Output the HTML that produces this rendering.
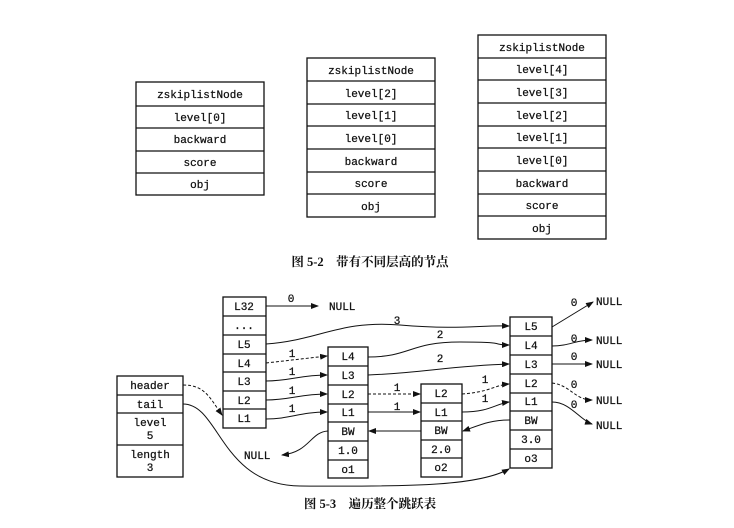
<!DOCTYPE html>
<html><head><meta charset="utf-8"><style>
body{margin:0;background:#fff}
svg text{font-family:"Liberation Mono",monospace;font-size:11px;fill:#111;stroke:#111;stroke-width:0.25;text-anchor:middle}
.c{font-family:"Liberation Serif","Noto Serif CJK SC",serif;font-size:12.5px;font-weight:bold;text-anchor:middle;stroke-width:0}
.n{text-anchor:start}
</style></head><body>
<svg width="734" height="523" viewBox="0 0 734 523" xmlns="http://www.w3.org/2000/svg">
<defs><marker id="a" markerWidth="8" markerHeight="6" refX="7" refY="3" orient="auto" markerUnits="userSpaceOnUse"><path d="M0,0 L8,3 L0,6 Z" fill="#111"/></marker></defs>
<g fill="none" stroke="#111" stroke-width="1.3">
<rect x="136" y="82" width="128" height="113"/>
<path d="M136 106H264M136 128H264M136 151H264M136 173H264"/>
<rect x="307" y="58" width="128" height="159"/>
<path d="M307 81H435M307 104H435M307 126H435M307 149H435M307 172H435M307 194H435"/>
<rect x="478" y="35" width="128" height="204"/>
<path d="M478 58H606M478 80H606M478 103H606M478 126H606M478 148H606M478 171H606M478 194H606M478 216H606"/>
<rect x="223" y="297" width="43" height="131"/>
<path d="M223 316H266M223 335H266M223 354H266M223 372H266M223 391H266M223 409H266"/>
<rect x="117" y="376" width="66" height="101"/>
<path d="M117 395H183M117 413H183M117 445H183"/>
<rect x="328" y="347" width="40" height="131"/>
<path d="M328 366H368M328 385H368M328 404H368M328 422H368M328 441H368M328 460H368"/>
<rect x="421" y="384" width="41" height="93"/>
<path d="M421 403H462M421 421H462M421 440H462M421 458H462"/>
<rect x="510" y="317" width="42" height="151"/>
<path d="M510 336H552M510 355H552M510 374H552M510 393H552M510 411H552M510 430H552M510 449H552"/>
</g>
<g fill="none" stroke="#111" stroke-width="1" marker-end="url(#a)">
<path d="M266 306H318"/>
<path d="M266 344C320 340 340 320 400 325S480 325 509 326"/>
<path d="M266 363L327 356" stroke-dasharray="3,2"/>
<path d="M266 381C290 381 300 375 327 375"/>
<path d="M266 400C290 400 300 394 327 394"/>
<path d="M266 419C290 419 300 412 327 412"/>
<path d="M368 357C410 357 410 342 460 342S490 345 509 345"/>
<path d="M368 375C420 373 450 366 509 364"/>
<path d="M368 394L420 394" stroke-dasharray="3,2"/>
<path d="M368 412L420 412"/>
<path d="M462 394C490 392 495 385 509 384" stroke-dasharray="3,2"/>
<path d="M462 412C490 412 495 404 509 402"/>
<path d="M510 420C490 420 480 425 463 431"/>
<path d="M421 431H369"/>
<path d="M328 431C310 432 310 452 282 455"/>
<path d="M183 385C205 385 210 398 222 415" stroke-dasharray="3,2"/>
<path d="M183 404C220 404 220 485 300 486C420 487 480 485 509 469"/>
<path d="M552 327L593 302"/>
<path d="M552 346C570 346 575 340 592 340"/>
<path d="M552 364H592"/>
<path d="M552 383C570 385 575 400 592 400" stroke-dasharray="3,2"/>
<path d="M552 402C570 402 580 420 592 424"/>
</g>
<g>
<text x="200" y="98">zskiplistNode</text><text x="200" y="121">level[0]</text><text x="200" y="143">backward</text><text x="200" y="166">score</text><text x="200" y="188">obj</text>
<text x="371" y="74">zskiplistNode</text><text x="371" y="97">level[2]</text><text x="371" y="119">level[1]</text><text x="371" y="142">level[0]</text><text x="371" y="165">backward</text><text x="371" y="187">score</text><text x="371" y="210">obj</text>
<text x="542" y="51">zskiplistNode</text><text x="542" y="73">level[4]</text><text x="542" y="96">level[3]</text><text x="542" y="119">level[2]</text><text x="542" y="141">level[1]</text><text x="542" y="164">level[0]</text><text x="542" y="187">backward</text><text x="542" y="209">score</text><text x="542" y="232">obj</text>
<text class="c" x="370" y="266">图 5-2　带有不同层高的节点</text>
<text x="244" y="310">L32</text><text x="244" y="329">...</text><text x="244" y="348">L5</text><text x="244" y="367">L4</text><text x="244" y="385">L3</text><text x="244" y="404">L2</text><text x="244" y="422">L1</text>
<text x="150" y="389">header</text><text x="150" y="408">tail</text><text x="150" y="426">level</text><text x="150" y="439">5</text><text x="150" y="458">length</text><text x="150" y="471">3</text>
<text x="348" y="360">L4</text><text x="348" y="379">L3</text><text x="348" y="398">L2</text><text x="348" y="416">L1</text><text x="348" y="435">BW</text><text x="348" y="454">1.0</text><text x="348" y="473">o1</text>
<text x="441" y="397">L2</text><text x="441" y="416">L1</text><text x="441" y="434">BW</text><text x="441" y="453">2.0</text><text x="441" y="471">o2</text>
<text x="531" y="330">L5</text><text x="531" y="349">L4</text><text x="531" y="368">L3</text><text x="531" y="387">L2</text><text x="531" y="405">L1</text><text x="531" y="424">BW</text><text x="531" y="443">3.0</text><text x="531" y="462">o3</text>
<text x="291" y="302">0</text><text x="397" y="324">3</text><text x="292" y="357">1</text><text x="292" y="375">1</text><text x="292" y="394">1</text><text x="292" y="412">1</text>
<text x="440" y="338">2</text><text x="440" y="362">2</text><text x="397" y="391">1</text><text x="397" y="410">1</text><text x="485" y="383">1</text><text x="485" y="402">1</text>
<text x="574" y="306">0</text><text x="574" y="342">0</text><text x="574" y="360">0</text><text x="574" y="388">0</text><text x="574" y="408">0</text>
<text class="n" x="329" y="310">NULL</text><text class="n" x="244" y="459">NULL</text>
<text class="n" x="596" y="305">NULL</text><text class="n" x="596" y="344">NULL</text><text class="n" x="596" y="368">NULL</text><text class="n" x="596" y="404">NULL</text><text class="n" x="596" y="429">NULL</text>
<text class="c" x="370" y="508">图 5-3　遍历整个跳跃表</text>
</g>
</svg>
</body></html>
